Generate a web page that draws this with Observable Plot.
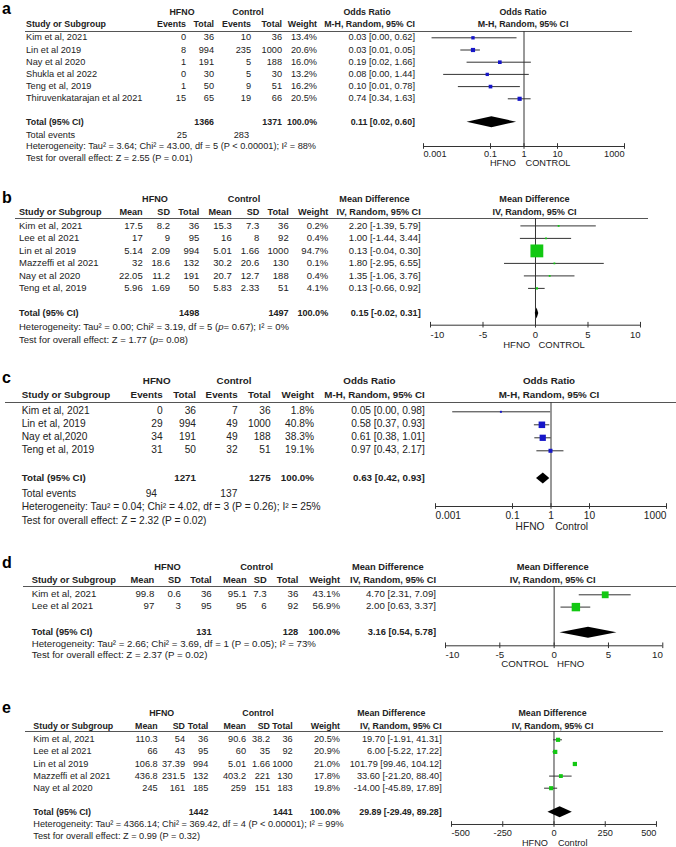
<!DOCTYPE html>
<html><head><meta charset="utf-8">
<script src="https://cdn.jsdelivr.net/npm/d3@7"></script>
<script src="https://cdn.jsdelivr.net/npm/@observablehq/plot@0.6"></script>
<style>
body{margin:0;background:#fff;}
#fig{position:relative;width:676px;height:847px;overflow:hidden;font-family:"Liberation Sans",Arial,sans-serif;color:#222;background:#fff;}
.t{position:absolute;line-height:0;white-space:nowrap;}
.r{transform:translateX(-100%);}
.c{transform:translateX(-50%);}
.b{font-weight:bold;}
.rule{position:absolute;height:0;border-top:1px solid #555;}
</style></head><body><div id="fig"></div><script>
// ================= DATA =================
const tickOR = [0.001, 0.1, 1, 10, 1000];
const tickMD10 = [-10, -5, 0, 5, 10];
const tickMD500 = [-500, -250, 0, 250, 500];
const evCols = ["Events", "Total", "Events", "Total", "Weight"];
const mdCols = ["Mean", "SD", "Total", "Mean", "SD", "Total", "Weight"];

// Panel a
const studiesA = ["Kim et al, 2021", "Lin et al 2019", "Nay et al 2020", "Shukla et al 2022", "Teng et al, 2019", "Thiruvenkatarajan et al 2021"];
const hfnoEventsA = [0, 8, 1, 0, 1, 15];
const hfnoTotalA = [36, 994, 191, 30, 50, 65];
const ctrlEventsA = [10, 235, 5, 5, 9, 19];
const ctrlTotalA = [36, 1000, 188, 30, 51, 66];
const weightA = [13.4, 20.6, 16.0, 13.2, 16.2, 20.5];
const estA = [0.03, 0.03, 0.19, 0.08, 0.10, 0.74];
const loA = [0.0018, 0.013, 0.02, 0.004, 0.011, 0.34];
const hiA = [0.62, 0.05, 1.66, 1.44, 0.78, 1.63];
const totalsA = [1366, 1371];
const pooledA = [0.11, 0.02, 0.60];
const totalEventsA = [25, 283];
const hetA = "Heterogeneity: Tau² = 3.64; Chi² = 43.00, df = 5 (P &lt; 0.00001); I² = 88%";
const testA = "Test for overall effect: Z = 2.55 (P = 0.01)";

// Panel b
const studiesB = ["Kim et al, 2021", "Lee et al 2021", "Lin et al 2019", "Mazzeffi et al 2021", "Nay et al 2020", "Teng et al, 2019"];
const hfnoMeanB = [17.5, 17, 5.14, 32, 22.05, 5.96];
const hfnoSdB = [8.2, 9, 2.09, 18.6, 11.2, 1.69];
const hfnoTotalB = [36, 95, 994, 132, 191, 50];
const ctrlMeanB = [15.3, 16, 5.01, 30.2, 20.7, 5.83];
const ctrlSdB = [7.3, 8, 1.66, 20.6, 12.7, 2.33];
const ctrlTotalB = [36, 92, 1000, 130, 188, 51];
const weightB = [0.2, 0.4, 94.7, 0.1, 0.4, 4.1];
const estB = [2.20, 1.00, 0.13, 1.80, 1.35, 0.13];
const loB = [-1.39, -1.44, -0.04, -2.95, -1.06, -0.66];
const hiB = [5.79, 3.44, 0.30, 6.55, 3.76, 0.92];
const totalsB = [1498, 1497];
const pooledB = [0.15, -0.02, 0.31];
const hetB = "Heterogeneity: Tau² = 0.00; Chi² = 3.19, df = 5 (<i>p</i>= 0.67); I² = 0%";
const testB = "Test for overall effect: Z = 1.77 (<i>p</i>= 0.08)";

// Panel c
const studiesC = ["Kim et al, 2021", "Lin et al, 2019", "Nay et al,2020", "Teng et al, 2019"];
const hfnoEventsC = [0, 29, 34, 31];
const hfnoTotalC = [36, 994, 191, 50];
const ctrlEventsC = [7, 49, 49, 32];
const ctrlTotalC = [36, 1000, 188, 51];
const weightC = [1.8, 40.8, 38.3, 19.1];
const estC = [0.05, 0.58, 0.61, 0.97];
const loC = [0.0028, 0.37, 0.38, 0.43];
const hiC = [0.98, 0.93, 1.01, 2.17];
const totalsC = [1271, 1275];
const pooledC = [0.63, 0.42, 0.93];
const totalEventsC = [94, 137];
const hetC = "Heterogeneity: Tau² = 0.04; Chi² = 4.02, df = 3 (P = 0.26); I² = 25%";
const testC = "Test for overall effect: Z = 2.32 (P = 0.02)";

// Panel d
const studiesD = ["Kim et al, 2021", "Lee et al 2021"];
const hfnoMeanD = [99.8, 97];
const hfnoSdD = [0.6, 3];
const hfnoTotalD = [36, 95];
const ctrlMeanD = [95.1, 95];
const ctrlSdD = [7.3, 6];
const ctrlTotalD = [36, 92];
const weightD = [43.1, 56.9];
const estD = [4.70, 2.00];
const loD = [2.31, 0.63];
const hiD = [7.09, 3.37];
const totalsD = [131, 128];
const pooledD = [3.16, 0.54, 5.78];
const hetD = "Heterogeneity: Tau² = 2.66; Chi² = 3.69, df = 1 (P = 0.05); I² = 73%";
const testD = "Test for overall effect: Z = 2.37 (P = 0.02)";

// Panel e
const studiesE = ["Kim et al, 2021", "Lee et al 2021", "Lin et al 2019", "Mazzeffi et al 2021", "Nay et al 2020"];
const hfnoMeanE = [110.3, 66, 106.8, 436.8, 245];
const hfnoSdE = [54, 43, 37.39, 231.5, 161];
const hfnoTotalE = [36, 95, 994, 132, 185];
const ctrlMeanE = [90.6, 60, 5.01, 403.2, 259];
const ctrlSdE = [38.2, 35, 1.66, 221, 151];
const ctrlTotalE = [36, 92, 1000, 130, 183];
const weightE = [20.5, 20.9, 21.0, 17.8, 19.8];
const estE = [19.70, 6.00, 101.79, 33.60, -14.00];
const loE = [-1.91, -5.22, 99.46, -21.20, -45.89];
const hiE = [41.31, 17.22, 104.12, 88.40, 17.89];
const totalsE = [1442, 1441];
const pooledE = [29.89, -29.49, 89.28];
const hetE = "Heterogeneity: Tau² = 4366.14; Chi² = 369.42, df = 4 (P &lt; 0.00001); I² = 99%";
const testE = "Test for overall effect: Z = 0.99 (P = 0.32)";

// ================= RENDER =================
const FONT = '"Liberation Sans", Arial, sans-serif';
const BLUE = "#1616c8", GREEN = "#12c812";
const fig = document.getElementById("fig");

function T(x, y, html, o = {}) {
  const d = document.createElement("div");
  d.className = "t" + (o.align ? " " + o.align : "") + (o.bold ? " b" : "");
  d.style.left = x + "px";
  d.style.top = y + "px";
  d.style.fontSize = (o.size || 10) + "px";
  if (o.color) d.style.color = o.color;
  d.innerHTML = html;
  fig.appendChild(d);
}
function hrule(x0, x1, y) {
  const d = document.createElement("div");
  d.className = "rule";
  d.style.left = x0 + "px"; d.style.width = (x1 - x0) + "px"; d.style.top = y + "px";
  fig.appendChild(d);
}
const f2 = v => v.toFixed(2);
const ciText = (e, l, h) => `${f2(e)} [${f2(l)}, ${f2(h)}]`;

function drawPanel(L, D) {
  const fs = L.fs, fb = fs * 0.96;
  const n = D.studies.length;
  T(2, L.letterBase - 0.3465 * 16, L.letter, {size: 16, bold: true, color: "#000"});
  // group headers
  T(L.groupCx[0], L.hdr1Y, "HFNO", {size: fb, bold: true, align: "c"});
  T(L.groupCx[1], L.hdr1Y, "Control", {size: fb, bold: true, align: "c"});
  T(L.studyLeft, L.hdr2Y, "Study or Subgroup", {size: fb, bold: true});
  D.colLabels.forEach((c, j) => T(L.colRights[j], L.hdr2Y, c, {size: fb, bold: true, align: "r"}));
  T(L.ciHdrCx, L.hdr1Y, D.effect, {size: fb, bold: true, align: "c"});
  T(L.ciRight, L.hdr2Y, D.method, {size: fb, bold: true, align: "r"});
  T(L.plotCx, L.hdr1Y, D.effect, {size: fb, bold: true, align: "c"});
  T(L.plotCx, L.hdr2Y, D.method, {size: fb, bold: true, align: "c"});
  hrule(L.ruleX[0], L.ruleX[1], L.ruleY);
  // study rows
  const nc = D.cols.length;
  D.studies.forEach((s, i) => {
    const y = L.row0 + i * L.step;
    T(L.studyLeft, y, s, {size: fs});
    D.cols.forEach((col, j) => T(L.colRights[j], y, String(col[i]), {size: fs, align: "r"}));
    T(L.colRights[nc], y, D.weight[i].toFixed(1) + "%", {size: fs, align: "r"});
    T(L.ciRight, y, ciText(D.est[i], D.lo[i], D.hi[i]), {size: fs, align: "r"});
  });
  // total row
  T(L.studyLeft, L.totalY, "Total (95% CI)", {size: fb, bold: true});
  D.totalIdx.forEach((j, k) => T(L.colRights[j], L.totalY, String(D.totals[k]), {size: fb, bold: true, align: "r"}));
  T(L.colRights[nc], L.totalY, "100.0%", {size: fb, bold: true, align: "r"});
  T(L.ciRight, L.totalY, ciText(...D.pooled), {size: fb, bold: true, align: "r"});
  if (D.totalEvents) {
    T(L.studyLeft, L.totEvY, "Total events", {size: fs});
    D.totalEvents.forEach((v, k) => T(L.totEvRights[k], L.totEvY, String(v), {size: fs, align: "r"}));
  }
  T(L.studyLeft, L.hetY, D.het, {size: fs});
  T(L.studyLeft, L.testY, D.test, {size: fs});
  // favours labels
  T(L.favCx[0], L.favY, D.fav[0], {size: fs, align: "c"});
  T(L.favCx[1], L.favY, D.fav[1], {size: fs, align: "c"});

  // ---------- forest plot ----------
  const rTop = (L.ruleY - L.row0) / L.step;
  const rAxis = (L.axisY - L.row0) / L.step;
  const rTot = (L.totalY - L.row0) / L.step;
  const svgL = L.xr[0] - 22, svgR = Math.min(676, L.xr[1] + 22);
  const mb = 22;
  const innerH = L.axisY - L.ruleY;
  const rows = D.studies.map((s, i) => ({i, est: D.est[i], lo: D.lo[i], hi: D.hi[i], w: D.weight[i]}));
  const [pe, pl, ph] = D.pooled;
  const dh = 5.5 / L.step;
  const diamond = [{y: rTot - dh, x1: pe, x2: pe}, {y: rTot, x1: pl, x2: ph}, {y: rTot + dh, x1: pe, x2: pe}];
  const td = 2.8 / L.step;
  const tickRules = D.ticks.map(t => ({x: t, y1: rAxis - td, y2: rAxis + td}));
  const dom = [D.ticks[0], D.ticks[D.ticks.length - 1]];
  const ax = {tickSize: 0, tickPadding: L.labelY - L.axisY - 0.352 * fs, tickFormat: d => String(d), label: null, fill: "#222"};
  const svg = Plot.plot({
    width: svgR - svgL,
    height: innerH + mb,
    marginLeft: L.xr[0] - svgL, marginRight: svgR - L.xr[1], marginTop: 0, marginBottom: mb,
    style: {fontFamily: FONT, fontSize: fs + "px", color: "#222", background: "none", overflow: "visible"},
    x: {type: D.xtype, domain: dom, range: [L.xr[0] - svgL, L.xr[1] - svgL], label: null},
    y: {domain: [rTop, rAxis], range: [0, innerH], axis: null},
    r: {type: "linear", domain: [0, 100], range: [1, 7.6]},
    marks: [
      Plot.ruleX([{x: D.nullV, y1: rTop, y2: rAxis}], {x: "x", y1: "y1", y2: "y2", stroke: "#333", strokeWidth: 1}),
      Plot.ruleY(rows, {y: "i", x1: "lo", x2: "hi", stroke: "#333", strokeWidth: 1}),
      Plot.dot(rows, {x: "est", y: "i", r: "w", symbol: "square", fill: D.color}),
      Plot.areaX(diamond, {y: "y", x1: "x1", x2: "x2", fill: "#000"}),
      Plot.ruleY([{y: rAxis, x1: dom[0], x2: dom[1]}], {y: "y", x1: "x1", x2: "x2", stroke: "#333"}),
      Plot.ruleX(tickRules, {x: "x", y1: "y1", y2: "y2", stroke: "#333"}),
      Plot.axisX([D.ticks[0]], {...ax, textAnchor: "start"}),
      Plot.axisX(D.ticks.slice(1, -1), {...ax}),
      Plot.axisX([D.ticks[D.ticks.length - 1]], {...ax, textAnchor: "end"})
    ]
  });
  svg.style.position = "absolute";
  svg.style.left = svgL + "px";
  svg.style.top = L.ruleY + "px";
  svg.style.maxWidth = "none";
  fig.appendChild(svg);
}

const OR = "Odds Ratio", MD = "Mean Difference";
const MH = "M-H, Random, 95% CI", IV = "IV, Random, 95% CI";

drawPanel(
  {letter: "a", letterBase: 14.6, fs: 9.2, groupCx: [182, 248], hdr1Y: 12.3, hdr2Y: 24, studyLeft: 26,
   colRights: [186, 214, 251, 282, 317], ciHdrCx: 367, ciRight: 415, plotCx: 523,
   ruleY: 31, ruleX: [25, 632], row0: 37.3, step: 12.2, totalY: 121.7, totEvY: 134.6, totEvRights: [187, 249],
   hetY: 146, testY: 157.5, xr: [423.3, 624.3], axisY: 146, labelY: 153.3, favCx: [503, 548], favY: 163.3},
  {studies: studiesA, cols: [hfnoEventsA, hfnoTotalA, ctrlEventsA, ctrlTotalA], colLabels: evCols,
   weight: weightA, est: estA, lo: loA, hi: hiA, totals: totalsA, totalIdx: [1, 3], pooled: pooledA,
   totalEvents: totalEventsA, het: hetA, test: testA, effect: OR, method: MH, fav: ["HFNO", "CONTROL"],
   xtype: "log", ticks: tickOR, nullV: 1, color: BLUE});

drawPanel(
  {letter: "b", letterBase: 203.3, fs: 9.5, groupCx: [155, 244], hdr1Y: 199.3, hdr2Y: 211.7, studyLeft: 19,
   colRights: [142.7, 170, 199.3, 231.7, 259.3, 288.7, 328.3], ciHdrCx: 374.5, ciRight: 420.7, plotCx: 534.5,
   ruleY: 218.3, ruleX: [15, 648], row0: 225.7, step: 12.5, totalY: 313.3,
   hetY: 326.7, testY: 340, xr: [430, 640], axisY: 325, labelY: 334, favCx: [516.7, 561.7], favY: 345},
  {studies: studiesB, cols: [hfnoMeanB, hfnoSdB, hfnoTotalB, ctrlMeanB, ctrlSdB, ctrlTotalB], colLabels: mdCols,
   weight: weightB, est: estB, lo: loB, hi: hiB, totals: totalsB, totalIdx: [2, 5], pooled: pooledB,
   het: hetB, test: testB, effect: MD, method: IV, fav: ["HFNO", "CONTROL"],
   xtype: "linear", ticks: tickMD10, nullV: 0, color: GREEN});

drawPanel(
  {letter: "c", letterBase: 383.3, fs: 10.2, groupCx: [156.7, 234], hdr1Y: 381, hdr2Y: 395, studyLeft: 21.7,
   colRights: [162.7, 196, 237.7, 270.7, 314], ciHdrCx: 369.4, ciRight: 424.8, plotCx: 549,
   ruleY: 401.7, ruleX: [5, 676], row0: 411, step: 13, totalY: 477.7, totEvY: 494, totEvRights: [157, 237.3],
   hetY: 507.3, testY: 521.3, xr: [435, 666], axisY: 505.7, labelY: 515, favCx: [530, 571.7], favY: 526.7},
  {studies: studiesC, cols: [hfnoEventsC, hfnoTotalC, ctrlEventsC, ctrlTotalC], colLabels: evCols,
   weight: weightC, est: estC, lo: loC, hi: hiC, totals: totalsC, totalIdx: [1, 3], pooled: pooledC,
   totalEvents: totalEventsC, het: hetC, test: testC, effect: OR, method: MH, fav: ["HFNO", "Control"],
   xtype: "log", ticks: tickOR, nullV: 1, color: BLUE});

drawPanel(
  {letter: "d", letterBase: 568.3, fs: 9.7, groupCx: [167.5, 256.7], hdr1Y: 566.5, hdr2Y: 580, studyLeft: 31.7,
   colRights: [154.3, 181, 211.7, 246.7, 266.7, 298.3, 340], ciHdrCx: 387.8, ciRight: 436, plotCx: 552.7,
   ruleY: 585.7, ruleX: [23.3, 676], row0: 594, step: 12.3, totalY: 632,
   hetY: 644, testY: 655, xr: [445, 662.3], axisY: 645, labelY: 654, favCx: [525, 570.7], favY: 664.3},
  {studies: studiesD, cols: [hfnoMeanD, hfnoSdD, hfnoTotalD, ctrlMeanD, ctrlSdD, ctrlTotalD], colLabels: mdCols,
   weight: weightD, est: estD, lo: loD, hi: hiD, totals: totalsD, totalIdx: [2, 5], pooled: pooledD,
   het: hetD, test: testD, effect: MD, method: IV, fav: ["CONTROL", "HFNO"],
   xtype: "linear", ticks: tickMD10, nullV: 0, color: GREEN});

drawPanel(
  {letter: "e", letterBase: 713.3, fs: 9.2, groupCx: [161.7, 258], hdr1Y: 712.7, hdr2Y: 726, studyLeft: 33.3,
   colRights: [157.7, 185, 208.3, 246, 270, 292.7, 340], ciHdrCx: 391.3, ciRight: 441.7, plotCx: 552.6,
   ruleY: 731, ruleX: [25, 663], row0: 739.3, step: 12.1, totalY: 811.7,
   hetY: 824, testY: 835.7, xr: [450.7, 655.7], axisY: 824, labelY: 832.7, favCx: [535, 572.7], favY: 842.7},
  {studies: studiesE, cols: [hfnoMeanE, hfnoSdE, hfnoTotalE, ctrlMeanE, ctrlSdE, ctrlTotalE], colLabels: mdCols,
   weight: weightE, est: estE, lo: loE, hi: hiE, totals: totalsE, totalIdx: [2, 5], pooled: pooledE,
   het: hetE, test: testE, effect: MD, method: IV, fav: ["HFNO", "Control"],
   xtype: "linear", ticks: tickMD500, nullV: 0, color: GREEN});
</script></body></html>
